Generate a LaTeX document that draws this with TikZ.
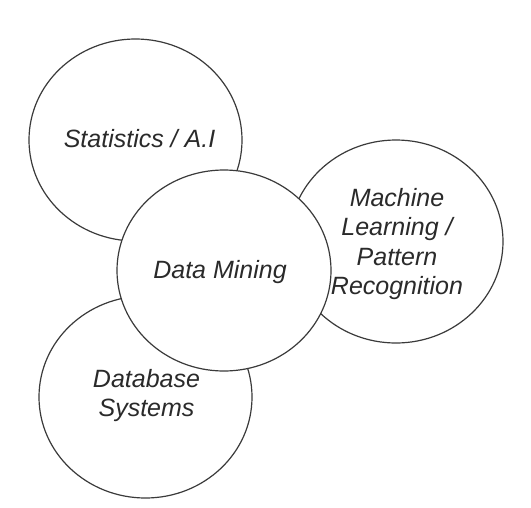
\documentclass[tikz,border=0pt]{standalone}
\usepackage{fontspec}
\setmainfont{Liberation Sans}
\usepackage{tikz}
\usepackage{xcolor}
\usetikzlibrary{shapes.geometric}

\definecolor{ringgray}{HTML}{3A3A3A}
\definecolor{textgray}{HTML}{2A2A2A}

\tikzset{
    field/.style={draw=ringgray, line width=1.2pt, ellipse, fill=white, inner sep=0pt},
    tag/.style={align=center, text=textgray, inner sep=0pt, font=\fontsize{25}{29.5}\selectfont\itshape},
}

\begin{document}
\begin{tikzpicture}[x=1pt, y=-1pt]
        \useasboundingbox (0,0) rectangle (531,507);

        % rings, data mining on top
        \node (stats) at (135.5, 140.0) [field, minimum width=213pt, minimum height=202pt] {};
        \node (ml)    at (396.0, 241.5) [field, minimum width=214pt, minimum height=203pt] {};
        \node (db)    at (145.5, 397.0) [field, minimum width=213pt, minimum height=202pt] {};
        \node (dm)    at (224.0, 270.5) [field, minimum width=214pt, minimum height=201pt] {};

        % labels
        \node (statslabel) at (139.5, 139.0) [tag] {Statistics / A.I};
        \node (mllabel)    at (397.0, 244.0) [tag] {Machine\\Learning /\\Pattern\\Recognition};
        \node (dblabel)    at (146.5, 395.5) [tag] {Database\\Systems};
        \node (dmlabel)    at (220.0, 272.0) [tag] {Data Mining};
    \end{tikzpicture}
\end{document}
